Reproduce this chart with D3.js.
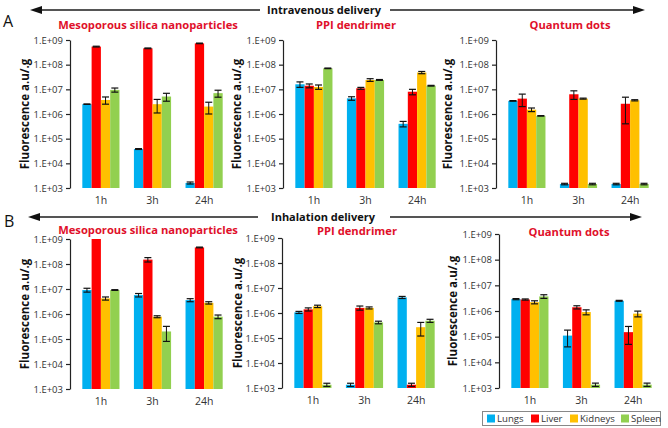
<!DOCTYPE html>
<html><head><meta charset="utf-8">
<script src="https://cdn.jsdelivr.net/npm/d3@7"></script>
<style>
body{margin:0;background:#fff;}
svg{display:block;font-family:"Open Sans","Noto Sans",sans-serif;}
</style></head><body>
<svg id="c" width="668" height="428"></svg>
<script>
const organs = ["Lungs","Liver","Kidneys","Spleen"];
const times = ["1h","3h","24h"];
const yTickValues = [1e3,1e4,1e5,1e6,1e7,1e8,1e9];
const organColors = ["#00b0f0","#ff0000","#ffc000","#92d050"];

// values [time][organ]
const ivSilica    = [[2.5e6,5.4e8,3.7e6,9.5e6],[3.8e4,4.6e8,2.5e6,5.1e6],[1.6e3,7.3e8,2.0e6,7.0e6]];
const ivSilicaErr = [[5e4,2e7,1.2e6,1.8e6],[1.5e3,1.5e7,1.4e6,1.8e6],[1.5e2,2e7,1.0e6,2.2e6]];
const ivPPI       = [[1.6e7,1.4e7,1.25e7,7.1e7],[4.3e6,1.1e7,2.4e7,2.4e7],[4.0e5,8.0e6,4.8e7,1.4e7]];
const ivPPIErr    = [[4e6,2.5e6,2.5e6,2e6],[7e5,1e6,3e6,1e6],[1e5,2e6,5e6,5e5]];
const ivQD        = [[3.4e6,4.2e6,1.5e6,8.4e5],[1.45e3,6.3e6,4.2e6,1.45e3],[1.45e3,2.6e6,3.6e6,1.45e3]];
const ivQDErr     = [[1e5,2.2e6,2.5e5,2e4],[1e2,2.4e6,2e5,1e2],[1e2,2.2e6,2e5,1e2]];
const inhSilica   = [[9.1e6,1.0e9,4.2e6,9.1e6],[5.7e6,1.5e8,7.8e5,2.0e5],[3.6e6,4.6e8,2.8e6,7.8e5]];
const inhSilicaErr= [[1.6e6,0,6e5,3e5],[9e5,3e7,7e4,1.2e5],[5e5,1.5e7,3e5,1.3e5]];
const inhPPI      = [[1.06e6,1.4e6,1.85e6,1.35e3],[1.35e3,1.6e6,1.6e6,4.2e5],[4.2e6,1.35e3,2.7e5,4.9e5]];
const inhPPIErr   = [[1e5,2e5,2e5,2e2],[2e2,3e5,1.5e5,5e4],[4e5,2e2,1.5e5,7e4]];
const inhQD       = [[2.9e6,2.8e6,2.2e6,3.7e6],[1.1e5,1.4e6,9.1e5,1.35e3],[2.5e6,1.5e5,7.9e5,1.35e3]];
const inhQDErr    = [[1.5e5,1.5e5,3e5,6e5],[7e4,2e5,2e5,2e2],[1e5,1e5,2e5,2e2]];

const panelTitles = ["Mesoporous silica nanoparticles","PPI dendrimer","Quantum dots"];
const yTitle = "Fluorescence a.u/.g";

const svg = d3.select("#c");
const titleRed = "#e0102a";

const panels = [
  {vals:ivSilica, errs:ivSilicaErr, title:panelTitles[0], ax:70,  top:40,  bot:188, tx:148, ty:29,  ytx:25},
  {vals:ivPPI,    errs:ivPPIErr,    title:panelTitles[1], ax:283, top:40,  bot:188, tx:356, ty:29,  ytx:237},
  {vals:ivQD,     errs:ivQDErr,     title:panelTitles[2], ax:496, top:40,  bot:188, tx:570, ty:29,  ytx:448},
  {vals:inhSilica,errs:inhSilicaErr,title:panelTitles[0], ax:70,  top:239, bot:389, tx:148, ty:234, ytx:25},
  {vals:inhPPI,   errs:inhPPIErr,   title:panelTitles[1], ax:282, top:238, bot:388, tx:357, ty:235, ytx:238},
  {vals:inhQD,    errs:inhQDErr,    title:panelTitles[2], ax:499, top:234, bot:388, tx:569, ty:236, ytx:453}
];

panels.forEach(p => {
  const y = d3.scaleLog().domain([1e3,1e9]).range([p.bot,p.top]).clamp(true);
  const x0 = d3.scaleBand().domain(times).range([p.ax+2, p.ax+163]).paddingInner(0.28).paddingOuter(0.2);
  const x1 = d3.scaleBand().domain(organs).range([0, x0.bandwidth()]);
  const g = svg.append("g");

  times.forEach((t,ti) => {
    const gg = g.append("g").attr("transform", `translate(${x0(t)},0)`);
    gg.selectAll("rect").data(organs).join("rect")
      .attr("x", o => x1(o)).attr("width", x1.bandwidth())
      .attr("y", (o,oi) => y(p.vals[ti][oi]))
      .attr("height", (o,oi) => p.bot - y(p.vals[ti][oi]))
      .attr("fill", (o,oi) => organColors[oi]);
    organs.forEach((o,oi) => {
      const v = p.vals[ti][oi], e = p.errs[ti][oi];
      if (!e) return;
      const cx = x1(o) + x1.bandwidth()/2;
      const hi = y(v+e), lo = y(Math.max(v-e, 1e3));
      gg.append("line").attr("x1",cx).attr("x2",cx).attr("y1",hi).attr("y2",lo).attr("stroke","#111").attr("stroke-width",1);
      [hi,lo].forEach(yy => gg.append("line").attr("x1",cx-3.5).attr("x2",cx+3.5).attr("y1",yy).attr("y2",yy).attr("stroke","#111").attr("stroke-width",1.2));
    });
  });

  const ya = d3.axisLeft(y).tickValues(yTickValues).tickSize(4).tickSizeOuter(0)
    .tickFormat(d => "1.E+" + String(Math.round(Math.log10(d))).padStart(2,"0"));
  const yg = g.append("g").attr("transform",`translate(${p.ax},0)`).call(ya);
  yg.select(".domain").attr("stroke","#222").attr("stroke-width",1.2);
  yg.selectAll(".tick line").attr("stroke","#222").attr("stroke-width",1.2);
  yg.selectAll(".tick text").attr("font-size",9.5).attr("fill","#333").attr("x",-7)
    .attr("font-family","'Open Sans','Noto Sans',sans-serif");

  const xa = d3.axisBottom(x0).tickSize(0);
  const xg = g.append("g").attr("transform",`translate(0,${p.bot})`).call(xa);
  xg.select(".domain").remove();
  xg.selectAll(".tick text").attr("font-size",10.5).attr("fill","#333").attr("dy","1.2em")
    .attr("font-family","'Open Sans','Noto Sans',sans-serif");

  g.append("text").attr("x",p.tx).attr("y",p.ty).attr("text-anchor","middle")
    .attr("font-size",11.2).attr("font-weight","bold").attr("fill",titleRed).text(p.title);
  g.append("text").attr("transform",`translate(${p.ytx},${(p.top+p.bot)/2}) rotate(-90)`)
    .attr("text-anchor","middle").attr("dy","0.35em")
    .attr("font-size",11.5).attr("font-weight","bold").attr("fill","#111").text(yTitle);
});

function deliveryArrow(yy, x1a, x2a, label, lx, gapL, gapR) {
  const c = "#555";
  svg.append("line").attr("x1",x1a+10).attr("x2",gapL).attr("y1",yy).attr("y2",yy).attr("stroke",c).attr("stroke-width",2);
  svg.append("line").attr("x1",gapR).attr("x2",x2a-10).attr("y1",yy).attr("y2",yy).attr("stroke",c).attr("stroke-width",2);
  svg.append("path").attr("d",`M${x1a},${yy} L${x1a+12},${yy-4} L${x1a+12},${yy+4} Z`).attr("fill","#111");
  svg.append("path").attr("d",`M${x2a},${yy} L${x2a-12},${yy-4} L${x2a-12},${yy+4} Z`).attr("fill","#111");
  svg.append("text").attr("x",lx).attr("y",yy).attr("dy","0.33em").attr("text-anchor","middle")
    .attr("font-size",11).attr("font-weight","bold").attr("fill","#111").text(label);
}
deliveryArrow(10, 30, 645, "Intravenous delivery", 324, 260, 390);
deliveryArrow(217, 28, 642, "Inhalation delivery", 323, 258, 390);

svg.append("text").attr("x",3).attr("y",27).attr("font-size",16).attr("fill","#111").text("A");
svg.append("text").attr("x",4).attr("y",227).attr("font-size",16).attr("fill","#111").text("B");

const leg = svg.append("g");
leg.append("rect").attr("x",482.5).attr("y",411.5).attr("width",178).attr("height",14)
  .attr("fill","#fff").attr("stroke","#888").attr("stroke-width",1);
const legX = [487, 531, 570, 621];
organs.forEach((o,i) => {
  leg.append("rect").attr("x",legX[i]).attr("y",414.5).attr("width",8).attr("height",8).attr("fill",organColors[i]);
  leg.append("text").attr("x",legX[i]+10).attr("y",418.5).attr("dy","0.35em")
    .attr("font-size",9.6).attr("fill","#333").text(o);
});
</script>
</body></html>
